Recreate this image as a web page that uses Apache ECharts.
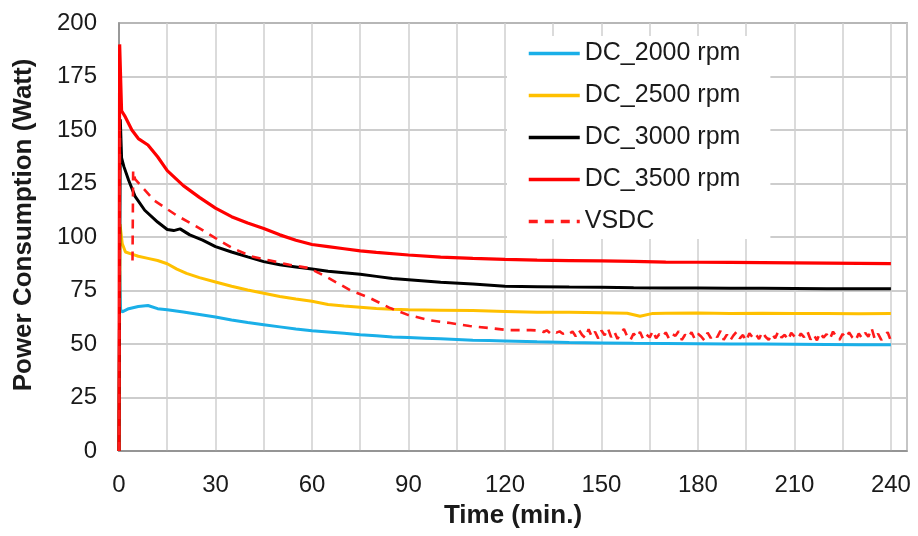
<!DOCTYPE html>
<html>
<head>
<meta charset="utf-8">
<script src="https://cdn.jsdelivr.net/npm/echarts@6/dist/echarts.min.js"></script>
<style>
html,body{margin:0;padding:0;background:#fff;}
#chart{width:918px;height:536px;}
</style>
</head>
<body>
<div id="chart"></div>
<script>
// ---- Data ----
var seriesNames = ['DC_2000 rpm', 'DC_2500 rpm', 'DC_3000 rpm', 'DC_3500 rpm', 'VSDC'];
var xTickLabels = [0, 30, 60, 90, 120, 150, 180, 210, 240];
var yTickLabels = [0, 25, 50, 75, 100, 125, 150, 175, 200];

var t2000 = [0, 0.2, 0.5, 1, 3, 6, 9, 12, 15, 20, 25, 30, 35, 40, 45, 50, 55, 60, 65, 70, 75, 80, 85, 90, 95, 100, 105, 110, 115, 120, 130, 140, 150, 160, 170, 180, 190, 200, 210, 220, 230, 240];
var v2000 = [0, 84, 66, 65, 66.5, 67.5, 68, 66.5, 66, 65, 63.8, 62.6, 61.2, 60, 59, 58, 57, 56.2, 55.6, 55, 54.3, 53.8, 53.3, 53, 52.7, 52.4, 52.1, 51.8, 51.6, 51.4, 51, 50.7, 50.5, 50.3, 50.2, 50.1, 50, 50, 49.9, 49.8, 49.7, 49.6];

var t2500 = [0, 0.3, 1, 2, 4, 6, 9, 12, 15, 18, 21, 25, 30, 35, 40, 45, 50, 55, 60, 65, 70, 75, 80, 85, 90, 100, 110, 120, 130, 140, 150, 158, 162, 166, 170, 180, 190, 200, 210, 220, 230, 240];
var v2500 = [0, 106, 97, 93, 92, 91, 90, 89, 87.5, 85, 83, 81, 79, 77, 75.2, 73.7, 72.2, 71, 70, 68.5, 67.8, 67.2, 66.6, 66.2, 66, 65.8, 65.6, 65.2, 64.8, 64.8, 64.6, 64.4, 63.0, 64.3, 64.4, 64.5, 64.3, 64.4, 64.2, 64.3, 64.1, 64.2];

var t3000 = [0, 0.4, 0.8, 1.5, 3, 5, 8, 12, 15, 17, 19, 22, 26, 30, 35, 40, 45, 50, 55, 60, 65, 70, 75, 80, 85, 90, 100, 110, 120, 130, 140, 150, 160, 170, 180, 190, 200, 210, 220, 230, 240];
var v3000 = [0, 155, 137, 133, 126.5, 119, 112.5, 107, 103.5, 103, 103.8, 101, 98.5, 95.5, 93, 90.7, 88.5, 87, 86, 85, 84, 83.3, 82.6, 81.6, 80.6, 80, 78.8, 78, 77, 76.8, 76.6, 76.5, 76.3, 76.2, 76.2, 76, 76, 75.9, 75.8, 75.8, 75.8];

var t3500 = [0, 0.2, 0.8, 2, 4, 6, 9, 12, 15, 20, 25, 30, 35, 40, 45, 50, 55, 60, 65, 70, 75, 80, 90, 100, 110, 120, 130, 140, 150, 160, 170, 180, 190, 200, 210, 220, 230, 240];
var v3500 = [0, 190, 159, 156, 150, 146, 143, 137.5, 131, 124, 118.5, 113.5, 109.5, 106.5, 104, 101, 98.5, 96.5, 95.5, 94.5, 93.5, 92.8, 91.6, 90.6, 90, 89.5, 89.2, 89, 88.8, 88.6, 88.3, 88.2, 88.1, 88, 87.9, 87.8, 87.7, 87.6];

// null = gap in the recorded VSDC trace
var tVSDC = [0, 0.3, 2, 4.2, 4.4, 5, 11, 18, 24, 30, 35, 41, 47, 53, 59, 65, 72, 78, 84, 90, 97, 103, 109, 115, 121, 128,
  131, 132, 133, 134, 135, 136, 137, 138, 139, 140,
  141, 142, 143, 144, 145, 146, 147, 148, 149, 150,
  151, 152, 153, 154, 155, 156, 157, 158, 159, 160,
  161, 162, 163, 164, 165, 166, 167, 168, 169, 170,
  171, 172, 173, 174, 175, 176, 177, 178, 179, 180,
  181, 182, 183, 184, 185, 186, 187, 188, 189, 190,
  191, 192, 193, 194, 195, 196, 197, 198, 199, 200,
  201, 202, 203, 204, 205, 206, 207, 208, 209, 210,
  211, 212, 213, 214, 215, 216, 217, 218, 219, 220,
  221, 222, 223, 224, 225, 226, 227, 228, 229, 230,
  231, 232, 233, 234, 235, 236, 237, 238, 239, 240];
var vVSDC = [0, 150, null, 89, 131, 127, 117, 110, 105, 99.5, 95, 91, 89, 87, 85.5, 81, 75, 71.5, 67, 63.5, 61, 59.8, 58.4, 57.5, 56.5, 56.5,
  56.2, 55.6, 56.4, 55.1, 56.0, 55.3, 55.9, 54.8, 55.6, 54.9,
  55.8, 53.6, 56.5, 54.2, 52.8, 56.9, 53.4, 55.7, 52.6, 56.3,
  54.1, 57.4, 53.2, 55.8, 52.4, 55.1, 57.0, 53.6, 51.8, 54.9,
  53.0, 55.6, 52.2, 54.4, 53.1, 56.2, 52.7, 54.6, 53.3, 55.4,
  52.5, 54.7, 53.8, 56.0, 51.9, 54.3, 53.0, 55.5, 52.4, 54.8,
  53.5, 51.7, 55.3, 52.8, 54.6, 53.2, 56.1, 52.0, 54.4, 51.6,
  53.9, 55.7, 52.6, 54.2, 51.4, 55.0, 53.1, 54.7, 52.3, 55.6,
  53.4, 51.9, 54.8, 52.7, 55.9, 53.0, 54.3, 51.8, 55.2, 53.6,
  52.4, 54.9, 53.2, 56.0, 52.1, 54.5, 51.7, 55.3, 53.0, 54.6,
  52.3, 55.8, 53.5, 51.9, 54.7, 52.8, 55.4, 53.1, 51.6, 54.9,
  52.7, 55.2, 53.4, 57.4, 52.2, 54.8, 51.9, 53.7, 55.5, 51.4];

function pairs(t, v) { return t.map(function (x, i) { return [x, v[i] === null ? '-' : v[i]]; }); }

var colors = ['#1AAFE8', '#FFC000', '#000000', '#FF0000', '#FF1A1A'];
var font = '"Liberation Sans", Arial, sans-serif';

var chart = echarts.init(document.getElementById('chart'), null, {renderer: 'canvas'});
chart.setOption({
  animation: false,
  backgroundColor: '#ffffff',
  grid: {left: 119, right: 11, top: 23, bottom: 85, show: true, borderColor: '#8a8a8a', borderWidth: 1.5, containLabel: false},
  legend: {
    orient: 'vertical', left: 507, top: 36,
    padding: [5, 30, 5, 20],
    backgroundColor: '#ffffff',
    itemWidth: 51, itemHeight: 14, itemGap: 17,
    itemStyle: {opacity: 0, borderWidth: 0},
    lineStyle: {width: 3.5},
    textStyle: {fontFamily: font, fontSize: 25, color: '#1a1a1a'},
    data: seriesNames
  },
  xAxis: {
    type: 'value', min: 0, max: 245, interval: 15,
    name: 'Time (min.)', nameLocation: 'middle', nameGap: 52,
    nameTextStyle: {fontFamily: font, fontSize: 26, fontWeight: 'bold', color: '#1a1a1a'},
    axisLine: {show: true, lineStyle: {color: '#8a8a8a', width: 1.5}},
    axisTick: {show: false},
    axisLabel: {
      margin: 22, fontFamily: font, fontSize: 24, color: '#1a1a1a',
      formatter: function (v) { return xTickLabels.indexOf(v) >= 0 ? String(v) : ''; }
    },
    splitLine: {show: true, lineStyle: {color: '#cfcfcf', width: 1.5}}
  },
  yAxis: {
    type: 'value', min: 0, max: 200, interval: 25,
    name: 'Power Consumption (Watt)', nameLocation: 'middle', nameGap: 82,
    nameTextStyle: {fontFamily: font, fontSize: 26, fontWeight: 'bold', color: '#1a1a1a', padding: [0, 0, 0, 24]},
    axisLine: {show: true, lineStyle: {color: '#8a8a8a', width: 1.5}},
    axisTick: {show: false},
    axisLabel: {
      margin: 22, fontFamily: font, fontSize: 24, color: '#1a1a1a',
      formatter: function (v) { return yTickLabels.indexOf(v) >= 0 ? String(v) : ''; }
    },
    splitLine: {show: true, lineStyle: {color: '#bdbdbd', width: 1.5}}
  },
  series: [
    {name: seriesNames[0], type: 'line', symbol: 'none', data: pairs(t2000, v2000), lineStyle: {color: colors[0], width: 3}, itemStyle: {color: colors[0]}},
    {name: seriesNames[1], type: 'line', symbol: 'none', data: pairs(t2500, v2500), lineStyle: {color: colors[1], width: 3}, itemStyle: {color: colors[1]}},
    {name: seriesNames[2], type: 'line', symbol: 'none', data: pairs(t3000, v3000), lineStyle: {color: colors[2], width: 3}, itemStyle: {color: colors[2]}},
    {name: seriesNames[3], type: 'line', symbol: 'none', data: pairs(t3500, v3500), lineStyle: {color: colors[3], width: 3.2}, itemStyle: {color: colors[3]}},
    {name: seriesNames[4], type: 'line', symbol: 'none', connectNulls: false, data: pairs(tVSDC, vVSDC), lineStyle: {color: colors[4], width: 2.6, type: [9, 7]}, itemStyle: {color: colors[4]}}
  ]
});
</script>
</body>
</html>
